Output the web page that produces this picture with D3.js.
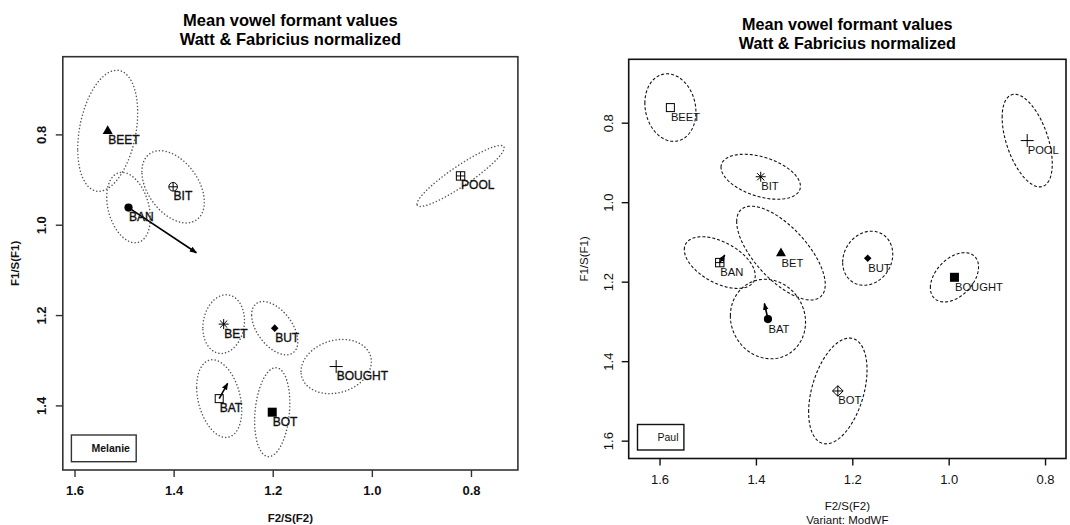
<!DOCTYPE html>
<html>
<head>
<meta charset="utf-8">
<script src="https://cdn.jsdelivr.net/npm/d3@7"></script>
<style>
  body { margin: 0; background: #fff; }
  svg { font-family: "Liberation Sans", Arial, Helvetica, sans-serif; }
</style>
</head>
<body>
<script>
// vowel categories (same order for both speakers)
var vowels = ["BEET", "BIT", "BAN", "POOL", "BET", "BUT", "BOUGHT", "BAT", "BOT"];

// Melanie - mean normalized F2 / F1
var melF2 = [1.533, 1.401, 1.491, 0.821, 1.299, 1.196, 1.072, 1.308, 1.201];
var melF1 = [0.792, 0.916, 0.962, 0.892, 1.220, 1.229, 1.314, 1.385, 1.415];
// ellipse half width (F2), half height (F1), correlation
var melEllF2 = [0.0605, 0.063, 0.044, 0.088, 0.042, 0.0466, 0.071, 0.0455, 0.0355];
var melEllF1 = [0.134, 0.080, 0.078, 0.0675, 0.065, 0.059, 0.060, 0.086, 0.0985];
var melEllR = [0.3, -0.42, -0.3, 0.92, 0.12, -0.5, 0.18, -0.3, 0.2];
// glide end points
var melGlideVowel = ["BAN", "BAT"];
var melGlideF2 = [1.354, 1.291];
var melGlideF1 = [1.062, 1.351];

// Paul
var paulF2 = [1.5775, 1.390, 1.475, 0.837, 1.348, 1.168, 0.988, 1.375, 1.230];
var paulF1 = [0.762, 0.936, 1.152, 0.845, 1.128, 1.141, 1.189, 1.294, 1.475];
var paulEllF2 = [0.053, 0.0824, 0.0736, 0.052, 0.0919, 0.052, 0.050, 0.078, 0.0606];
var paulEllF1 = [0.085, 0.0566, 0.065, 0.1165, 0.118, 0.068, 0.062, 0.100, 0.133];
var paulEllR = [-0.13, -0.42, -0.5, -0.5, -0.67, 0.15, 0.42, -0.08, 0.4];
var paulGlideVowel = ["BAN", "BAT"];
var paulGlideF2 = [1.4646, 1.3825];
var paulGlideF1 = [1.133, 1.255];

// tick labels
var xTicks = [1.6, 1.4, 1.2, 1.0, 0.8];
var melYTicks = [0.8, 1.0, 1.2, 1.4];
var paulYTicks = [0.8, 1.0, 1.2, 1.4, 1.6];

var titleLines = ["Mean vowel formant values", "Watt & Fabricius normalized"];

var svg = d3.select("body").append("svg")
    .attr("width", 1070)
    .attr("height", 525);

//=================================================
// symbols (R pch look-alikes)
//=================================================
function drawSymbol(g, type, cx, cy) {
    var s = g.append("g").attr("transform", "translate(" + cx + "," + cy + ")");
    var ink = "#000";
    if (type == "triangle") {
        s.append("path").attr("d", "M0,-5.5L5,3.2L-5,3.2Z").attr("fill", ink);
    } else if (type == "dot") {
        s.append("circle").attr("r", 4.1).attr("fill", ink);
    } else if (type == "circlePlus") {
        s.append("circle").attr("r", 4.3).attr("fill", "none").attr("stroke", ink);
        s.append("path").attr("d", "M-4.3,0H4.3M0,-4.3V4.3").attr("stroke", ink);
    } else if (type == "squarePlus") {
        s.append("rect").attr("x", -4.2).attr("y", -4.2).attr("width", 8.4).attr("height", 8.4)
            .attr("fill", "none").attr("stroke", ink);
        s.append("path").attr("d", "M-4.2,0H4.2M0,-4.2V4.2").attr("stroke", ink);
    } else if (type == "asterisk") {
        s.append("path").attr("d", "M-5,0H5M0,-5V5M-3.6,-3.6L3.6,3.6M-3.6,3.6L3.6,-3.6")
            .attr("stroke", ink);
    } else if (type == "diamond") {
        s.append("path").attr("d", "M0,-3.8L3.8,0L0,3.8L-3.8,0Z").attr("fill", ink);
    } else if (type == "plus") {
        s.append("path").attr("d", "M-6.5,0H6.5M0,-6.5V6.5").attr("stroke", ink);
    } else if (type == "square") {
        s.append("rect").attr("x", -4).attr("y", -4).attr("width", 8).attr("height", 8)
            .attr("fill", "none").attr("stroke", ink);
    } else if (type == "squareFilled") {
        s.append("rect").attr("x", -4.5).attr("y", -4.5).attr("width", 9).attr("height", 9)
            .attr("fill", ink);
    } else if (type == "diamondPlus") {
        s.append("path").attr("d", "M0,-5.3L5.3,0L0,5.3L-5.3,0Z").attr("fill", "none").attr("stroke", ink);
        s.append("path").attr("d", "M-5.3,0H5.3M0,-5.3V5.3").attr("stroke", ink);
    }
}

// arrow heads
svg.append("defs").append("marker")
    .attr("id", "head")
    .attr("viewBox", "0 -5 10 10")
    .attr("refX", 9)
    .attr("refY", 0)
    .attr("markerWidth", 4.5)
    .attr("markerHeight", 4.5)
    .attr("markerUnits", "strokeWidth")
    .attr("orient", "auto")
    .append("path")
    .attr("d", "M0,-4L10,0L0,4Z")
    .attr("fill", "#000");

//=================================================
// one panel
//=================================================
function drawPanel(p) {
    var x = d3.scaleLinear().domain(p.xDomain).range(p.xRange);
    var y = d3.scaleLinear().domain(p.yDomain).range(p.yRange);
    var g = svg.append("g");

    var rows = vowels.map(function (v, i) {
        return { vowel: v, f2: p.f2[i], f1: p.f1[i], a: p.ellF2[i], b: p.ellF1[i], r: p.ellR[i] };
    });

    // title
    var cx = (p.xRange[0] + p.xRange[1]) / 2;
    g.selectAll(".title")
        .data(titleLines)
        .enter().append("text")
        .attr("x", cx)
        .attr("y", function (d, i) { return p.titleY + i * 18.5; })
        .attr("text-anchor", "middle")
        .attr("font-size", p.titleSize)
        .attr("font-weight", "bold")
        .attr("fill", "#000")
        .text(function (d) { return d; });

    // ellipses: x = m + a cos t, y = m + b cos(t + acos r)
    var ts = d3.range(0, 2 * Math.PI + 0.001, Math.PI / 90);
    var line = d3.line();
    g.selectAll(".ell")
        .data(rows)
        .enter().append("path")
        .attr("d", function (d) {
            var dd = Math.acos(d.r);
            return line(ts.map(function (t) {
                return [x(d.f2 + d.a * Math.cos(t)), y(d.f1 + d.b * Math.cos(t + dd))];
            })) + "Z";
        })
        .attr("fill", "none")
        .attr("stroke", p.ellColor)
        .attr("stroke-width", p.ellWidth)
        .attr("stroke-dasharray", p.ellDash)
        .attr("stroke-linecap", p.ellCap);

    // glides
    p.glideVowel.forEach(function (v, i) {
        var row = rows[vowels.indexOf(v)];
        g.append("line")
            .attr("x1", x(row.f2)).attr("y1", y(row.f1))
            .attr("x2", x(p.glideF2[i])).attr("y2", y(p.glideF1[i]))
            .attr("stroke", "#000")
            .attr("stroke-width", 1.6)
            .attr("marker-end", "url(#head)");
    });

    // points and labels
    rows.forEach(function (d) {
        drawSymbol(g, p.symbols[d.vowel], x(d.f2), y(d.f1));
    });
    g.selectAll(".lab")
        .data(rows)
        .enter().append("text")
        .attr("x", function (d) { return x(d.f2) + 0.5; })
        .attr("y", function (d) { return y(d.f1) + 13.5; })
        .attr("font-size", p.labelSize)
        .attr("fill", "#111")
        .attr("stroke", "#111")
        .attr("stroke-width", p.labelStroke)
        .text(function (d) { return d.vowel; });

    // frame
    g.append("rect")
        .attr("x", p.xRange[0]).attr("y", p.yRange[0])
        .attr("width", p.xRange[1] - p.xRange[0])
        .attr("height", p.yRange[1] - p.yRange[0])
        .attr("fill", "none")
        .attr("stroke", p.frameColor)
        .attr("stroke-width", 1.6);

    // x axis
    var ax = g.append("g")
        .attr("transform", "translate(0," + p.yRange[1] + ")")
        .call(d3.axisBottom(x).tickValues(xTicks).tickFormat(d3.format(".1f"))
            .tickSize(7).tickPadding(p.xTickPad));
    ax.select(".domain").remove();
    ax.selectAll("line").attr("stroke", p.frameColor).attr("stroke-width", 1.4);
    ax.selectAll("text")
        .attr("font-size", 13)
        .attr("font-family", null)
        .attr("font-weight", p.axisWeight)
        .attr("fill", "#111");

    // y axis, labels parallel to the axis
    var ay = g.append("g")
        .attr("transform", "translate(" + p.xRange[0] + ",0)")
        .call(d3.axisLeft(y).tickValues(p.yTicks).tickFormat(d3.format(".1f")).tickSize(7));
    ay.select(".domain").remove();
    ay.selectAll("line").attr("stroke", p.frameColor).attr("stroke-width", 1.4);
    ay.selectAll("text")
        .attr("x", null).attr("dy", null)
        .attr("transform", "translate(" + (-p.yTickPad) + ",0) rotate(-90)")
        .attr("text-anchor", "middle")
        .attr("font-size", 13)
        .attr("font-family", null)
        .attr("font-weight", p.axisWeight)
        .attr("fill", "#111");

    // axis titles
    p.xTitle.forEach(function (t, i) {
        g.append("text")
            .attr("x", cx)
            .attr("y", p.xTitleY + i * 14)
            .attr("text-anchor", "middle")
            .attr("font-size", 11.5)
            .attr("font-weight", p.axisWeight)
            .attr("fill", "#111")
            .text(t);
    });
    g.append("text")
        .attr("transform", "translate(" + p.yTitleX + "," + ((p.yRange[0] + p.yRange[1]) / 2) + ") rotate(-90)")
        .attr("text-anchor", "middle")
        .attr("font-size", 11.5)
        .attr("font-weight", p.axisWeight)
        .attr("fill", "#111")
        .text("F1/S(F1)");

    // speaker box
    g.append("rect")
        .attr("x", p.legend[0]).attr("y", p.legend[1])
        .attr("width", p.legend[2]).attr("height", p.legend[3])
        .attr("fill", "#fff")
        .attr("stroke", p.frameColor)
        .attr("stroke-width", 1.4);
    g.append("text")
        .attr("x", p.legend[0] + p.legend[4])
        .attr("y", p.legend[1] + p.legend[3] / 2 + 4)
        .attr("font-size", 10.5)
        .attr("font-weight", p.axisWeight)
        .attr("fill", "#111")
        .text(p.speaker);
}

drawPanel({
    speaker: "Melanie",
    f2: melF2, f1: melF1, ellF2: melEllF2, ellF1: melEllF1, ellR: melEllR,
    glideVowel: melGlideVowel, glideF2: melGlideF2, glideF1: melGlideF1,
    yTicks: melYTicks,
    xDomain: [1.6236, 0.7053], xRange: [62.8, 517.9],
    yDomain: [0.628, 1.543], yRange: [56.7, 470],
    symbols: { BEET: "triangle", BIT: "circlePlus", BAN: "dot", POOL: "squarePlus", BET: "asterisk",
               BUT: "diamond", BOUGHT: "plus", BAT: "square", BOT: "squareFilled" },
    ellColor: "#555", ellWidth: 1.5, ellDash: "0.1,3.3", ellCap: "round",
    frameColor: "#333", axisWeight: "bold", labelSize: 12, labelStroke: 0.35, titleSize: 16.5,
    titleY: 26, xTickPad: 9, yTickPad: 17, xTitle: ["F2/S(F2)"], xTitleY: 522, yTitleX: 19,
    legend: [71.4, 435, 64.8, 26.7, 20]
});

drawPanel({
    speaker: "Paul",
    f2: paulF2, f1: paulF1, ellF2: paulEllF2, ellF1: paulEllF1, ellR: paulEllR,
    glideVowel: paulGlideVowel, glideF2: paulGlideF2, glideF1: paulGlideF1,
    yTicks: paulYTicks,
    xDomain: [1.664, 0.7565], xRange: [628.7, 1066],
    yDomain: [0.6405, 1.6449], yRange: [59.3, 458.5],
    symbols: { BEET: "square", BIT: "asterisk", BAN: "squarePlus", POOL: "plus", BET: "triangle",
               BUT: "diamond", BOUGHT: "squareFilled", BAT: "dot", BOT: "diamondPlus" },
    ellColor: "#111", ellWidth: 1.1, ellDash: "3,2", ellCap: "butt",
    frameColor: "#111", axisWeight: "normal", labelSize: 11.2, labelStroke: 0, titleSize: 16.2,
    titleY: 30, xTickPad: 9, yTickPad: 15.5, xTitle: ["F2/S(F2)", "Variant: ModWF"], xTitleY: 510, yTitleX: 588,
    legend: [637.5, 424.5, 46.4, 25.5, 20]
});
</script>
</body>
</html>
